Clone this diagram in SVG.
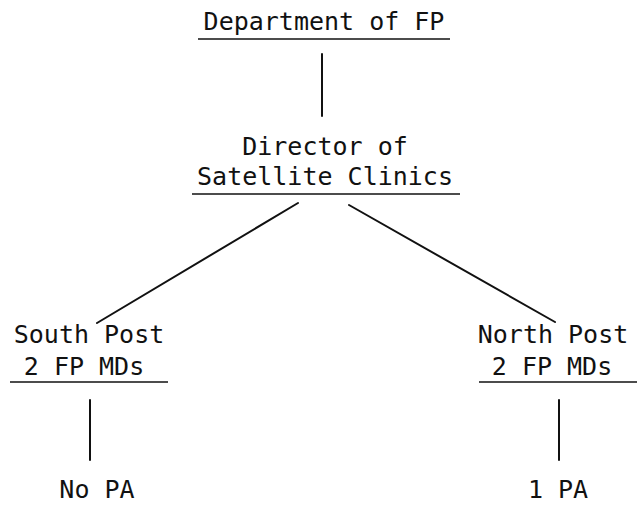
<svg xmlns="http://www.w3.org/2000/svg" width="637" height="508" viewBox="0 0 637 508">
  <style>
    text { font-family: "DejaVu Sans Mono", "Liberation Mono", monospace; font-size: 25px; fill: #111; }
    .ul { stroke: #111; stroke-width: 1.6; }
    .conn { stroke: #111; stroke-width: 2; stroke-linecap: round; fill: none; }
  </style>
  <rect width="637" height="508" fill="#fff"/>

  <g id="connectors">
    <line class="conn" x1="322" y1="54" x2="322" y2="116"/>
    <line class="conn" x1="298" y1="203" x2="97" y2="323"/>
    <line class="conn" x1="349" y1="205" x2="555" y2="322"/>
    <line class="conn" x1="90" y1="400" x2="90" y2="460"/>
    <line class="conn" x1="559" y1="400" x2="559" y2="460"/>
  </g>

  <g id="department">
    <text x="324" y="30" text-anchor="middle">Department of FP</text>
    <line class="ul" x1="198" y1="39" x2="450" y2="39"/>
  </g>

  <g id="director">
    <text x="325" y="155" text-anchor="middle">Director of</text>
    <text x="325" y="185" text-anchor="middle">Satellite Clinics</text>
    <line class="ul" x1="192" y1="194" x2="460" y2="194"/>
  </g>

  <g id="south-post">
    <text x="89" y="343" text-anchor="middle">South Post</text>
    <text x="84" y="375" text-anchor="middle">2 FP MDs</text>
    <line class="ul" x1="10" y1="382" x2="168" y2="382"/>
  </g>

  <g id="north-post">
    <text x="553" y="343" text-anchor="middle">North Post</text>
    <text x="552" y="375" text-anchor="middle">2 FP MDs</text>
    <line class="ul" x1="479" y1="382" x2="637" y2="382"/>
  </g>

  <g id="no-pa">
    <text x="97" y="498" text-anchor="middle">No PA</text>
  </g>

  <g id="one-pa">
    <text x="558" y="498" text-anchor="middle">1 PA</text>
  </g>
</svg>
